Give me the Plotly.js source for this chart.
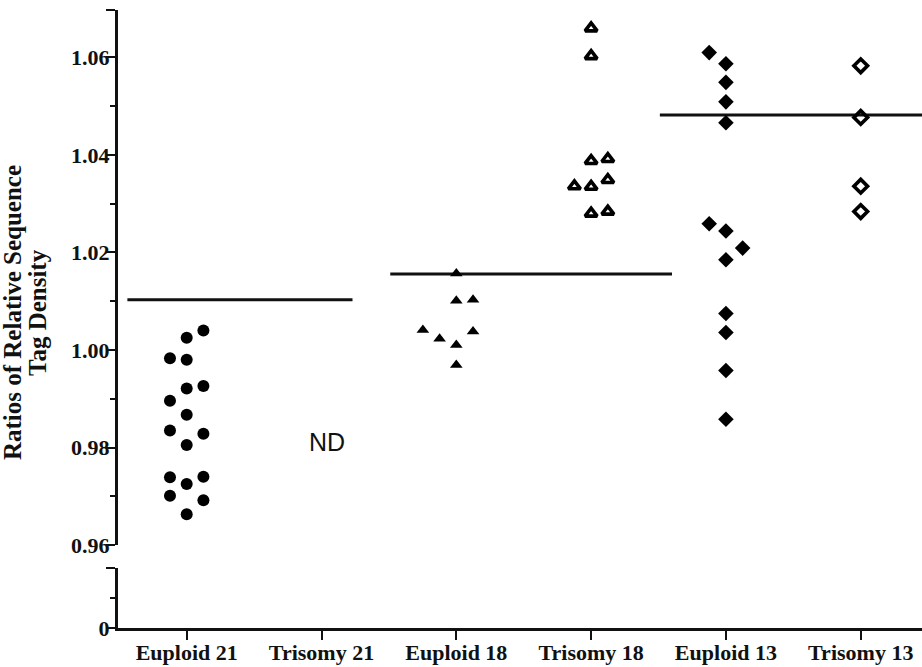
<!DOCTYPE html>
<html>
<head>
<meta charset="utf-8">
<script src="https://cdn.plot.ly/plotly-3.0.1.min.js"></script>
<style>html,body{margin:0;padding:0;background:#fff;}#chart{width:922px;height:667px;}</style>
</head>
<body>
<div id="chart"></div>
<script>
// Categories (x axis tick labels)
const categories = ["Euploid 21", "Trisomy 21", "Euploid 18", "Trisomy 18", "Euploid 13", "Trisomy 13"];

// Series values (ratios) and their dot-plot column (jitter slot) within the category
const euploid21 = [1.0040, 1.0025, 0.9983, 0.9980, 0.9921, 0.9926, 0.9896, 0.9867, 0.9835, 0.9828, 0.9805, 0.9739, 0.9725, 0.9740, 0.9701, 0.9692, 0.9663];
const euploid21Slot = [1, 0, -1, 0, 0, 1, -1, 0, -1, 1, 0, -1, 0, 1, -1, 1, 0];

const euploid18 = [1.0157, 1.0101, 1.0103, 1.0041, 1.0023, 1.0038, 1.0010, 0.9969];
const euploid18Slot = [0, 0, 1, -2, -1, 1, 0, 0];

const trisomy18 = [1.0660, 1.0603, 1.0388, 1.0392, 1.0336, 1.0335, 1.0349, 1.0280, 1.0284];
const trisomy18Slot = [0, 0, 0, 1, -1, 0, 1, 0, 1];

const euploid13 = [1.0610, 1.0587, 1.0549, 1.0509, 1.0466, 1.0259, 1.0244, 1.0209, 1.0185, 1.0075, 1.0036, 0.9958, 0.9858];
const euploid13Slot = [-1, 0, 0, 0, 0, -1, 0, 1, 0, 0, 0, 0, 0];

const trisomy13 = [1.0583, 1.0477, 1.0336, 1.0284];
const trisomy13Slot = [0, 0, 0, 0];

// Cut-off lines: value and the span (in category units) they cover
const cutoffValue = [1.0103, 1.0156, 1.0482];
const cutoffFrom = [-0.44, 1.51, 3.51];
const cutoffTo = [1.23, 3.60, 5.46];

// Text annotation for the group with no data
const ndLabel = "ND";
const ndCategory = 1;
const ndValue = 0.9812;

// Y axis title (two lines)
const yTitleLines = ["Ratios of Relative Sequence", "Tag Density"];

// Upper axis ticks
const upperTicks = [0.96, 0.98, 1.00, 1.02, 1.04, 1.06];
const upperMinor = [0.97, 0.99, 1.01, 1.03, 1.05];
// Lower (broken) axis segment ticks
const lowerTicks = [0];
const lowerMinor = [0.01];

const SLOT = 0.124;
const serif = "Liberation Serif";

function xs(catIndex, slots) { return slots.map(s => catIndex + s * SLOT); }

const traces = [];
cutoffValue.forEach((v, i) => {
  traces.push({
    type: "scatter", mode: "lines", x: [cutoffFrom[i], cutoffTo[i]], y: [v, v],
    line: {color: "#111", width: 3}, hoverinfo: "skip", showlegend: false
  });
});

traces.push({
  type: "scatter", mode: "markers", x: xs(0, euploid21Slot), y: euploid21,
  marker: {symbol: "circle", size: 12, color: "#000"}, showlegend: false, cliponaxis: false
});
traces.push({
  type: "scatter", mode: "markers", x: xs(2, euploid18Slot), y: euploid18,
  marker: {symbol: "triangle-up", size: 11, color: "#000"}, showlegend: false, cliponaxis: false
});
traces.push({
  type: "scatter", mode: "markers", x: xs(3, trisomy18Slot), y: trisomy18,
  marker: {symbol: "triangle-up-open", size: 10.5, color: "#000", line: {width: 3.6, color: "#000"}}, showlegend: false, cliponaxis: false
});
traces.push({
  type: "scatter", mode: "markers", x: xs(4, euploid13Slot), y: euploid13,
  marker: {symbol: "diamond", size: 12, color: "#000"}, showlegend: false, cliponaxis: false
});
traces.push({
  type: "scatter", mode: "markers", x: xs(5, trisomy13Slot), y: trisomy13,
  marker: {symbol: "diamond-open", size: 10.5, color: "#000", line: {width: 3.6, color: "#000"}}, showlegend: false, cliponaxis: false
});
// empty trace so the lower axis segment (x/y2 subplot) exists
traces.push({type: "scatter", mode: "markers", x: [null], y: [null], yaxis: "y2", showlegend: false, hoverinfo: "skip"});

const tickFont = {family: serif, size: 22, color: "#111", weight: "bold"};
const titleFont = {family: serif, size: 25, color: "#111", weight: "bold"};

const layout = {
  width: 922, height: 667,
  margin: {l: 118, r: 0, t: 10, b: 39},
  paper_bgcolor: "#fff", plot_bgcolor: "#fff",
  showlegend: false,
  xaxis: {
    range: [-0.5096, 5.4545], anchor: "y2",
    tickmode: "array", tickvals: categories.map((c, i) => i), ticktext: categories,
    ticks: "outside", ticklen: 9, tickwidth: 2, tickcolor: "#111",
    showline: true, linewidth: 3, linecolor: "#111",
    showgrid: false, zeroline: false,
    tickfont: tickFont, ticklabelstandoff: -6
  },
  yaxis: {
    domain: [0.1343, 1], range: [0.96, 1.06974], anchor: "x",
    tickmode: "array", tickvals: upperTicks.concat([1.0697]),
    ticktext: upperTicks.map(v => v.toFixed(2)).concat([""]),
    ticks: "outside", ticklen: 9, tickwidth: 2, tickcolor: "#111",
    minor: {tickmode: "array", tickvals: upperMinor, ticks: "outside", ticklen: 5, tickwidth: 2, tickcolor: "#111", showgrid: false},
    showline: true, linewidth: 3, linecolor: "#111",
    showgrid: false, zeroline: false,
    tickfont: tickFont, ticklabelstandoff: -8
  },
  yaxis2: {
    domain: [0, 0.0971], range: [0, 0.02], anchor: "x",
    tickmode: "array", tickvals: lowerTicks.concat([0.02]), ticktext: lowerTicks.map(v => String(v)).concat([""]),
    ticks: "outside", ticklen: 9, tickwidth: 2, tickcolor: "#111",
    minor: {tickmode: "array", tickvals: lowerMinor, ticks: "outside", ticklen: 5, tickwidth: 2, tickcolor: "#111", showgrid: false},
    showline: true, linewidth: 3, linecolor: "#111",
    showgrid: false, zeroline: false,
    tickfont: tickFont, ticklabelstandoff: -8
  },
  annotations: [
    {
      x: ndCategory + 0.04, y: ndValue, xref: "x", yref: "y", text: ndLabel, showarrow: false,
      font: {family: "Liberation Sans", size: 25, color: "#111"}
    },
    {
      x: -0.132, y: 0.511, xref: "paper", yref: "paper", text: yTitleLines[0], textangle: -90,
      showarrow: false, xanchor: "center", yanchor: "middle", font: titleFont
    },
    {
      x: -0.101, y: 0.511, xref: "paper", yref: "paper", text: yTitleLines[1], textangle: -90,
      showarrow: false, xanchor: "center", yanchor: "middle", font: titleFont
    }
  ]
};

Plotly.newPlot("chart", traces, layout, {displayModeBar: false, staticPlot: true});
</script>
</body>
</html>
